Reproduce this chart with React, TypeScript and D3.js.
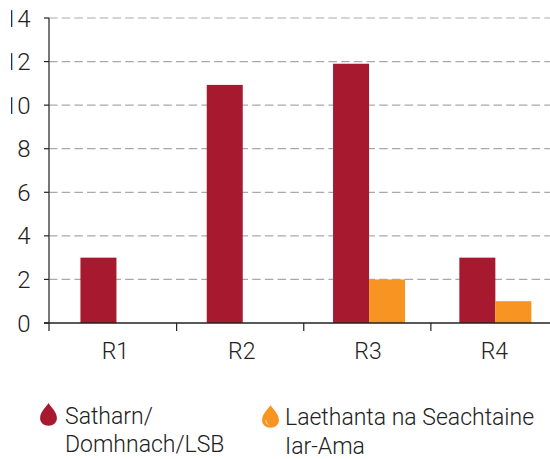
import React from "react";
import * as d3 from "d3";

const categories = ["R1", "R2", "R3", "R4"];
const seriesNames = ["Satharn/ Domhnach/LSB", "Laethanta na Seachtaine Iar-Ama"];
const weekend = [3, 10.93, 11.9, 3];
const weekdays = [0, 0, 2, 1];
const yTicks = [0, 2, 4, 6, 8, 10, 12, 14];

const RED = "#a6192e";
const ORANGE = "#f79422";
const FONT = "Roboto, sans-serif";

const dropPath = "M0,-12.5 C2,-8.5 8.4,-4 8.4,2.8 C8.4,7.4 4.6,10.2 0,10.2 C-4.6,10.2 -8.4,7.4 -8.4,2.8 C-8.4,-4 -2,-8.5 0,-12.5 Z";

export default function App() {
  const y = d3.scaleLinear().domain([0, 14]).range([323, 18]);
  const xBar = d3.scaleBand<string>().domain(categories).range([53.3, 558.5]);
  const xTick = d3.scaleBand<string>().domain(categories).range([49.5, 558]);
  const barW = 36;
  const left = 49;

  return (
    <svg
      width={550}
      height={459}
      style={{ position: "absolute", left: 0, top: 0, background: "#fff" }}
      fontFamily={FONT}
    >
      <defs>
        <clipPath id="labelClip">
          <rect x={11} y={0} width={539} height={459} />
        </clipPath>
      </defs>

      {yTicks.filter((t) => t > 0).map((t) => (
        <line key={t} x1={left} x2={550} y1={y(t)} y2={y(t)} stroke="#a9a9a9" strokeWidth={1.2} strokeDasharray="8.5 4.2" />
      ))}

      {categories.map((c, i) => {
        const center = (xBar(c) as number) + xBar.bandwidth() / 2;
        return (
          <g key={c}>
            {weekend[i] > 0 && (
              <rect x={center - barW} y={y(weekend[i])} width={barW} height={y(0) - y(weekend[i])} fill={RED} />
            )}
            {weekdays[i] > 0 && (
              <rect x={center} y={y(weekdays[i])} width={barW} height={y(0) - y(weekdays[i])} fill={ORANGE} />
            )}
          </g>
        );
      })}

      <line x1={left} x2={left} y1={y(14)} y2={331} stroke="#555" strokeWidth={1.6} />
      <line x1={44} x2={550} y1={y(0)} y2={y(0)} stroke="#222" strokeWidth={1.4} />
      {yTicks.map((t) => (
        <line key={t} x1={44} x2={left} y1={y(t)} y2={y(t)} stroke="#222" strokeWidth={1.2} />
      ))}
      {categories.map((c) => {
        const edge = (xTick(c) as number) + xTick.bandwidth();
        return edge < 550 ? (
          <line key={c} x1={edge} x2={edge} y1={y(0)} y2={331} stroke="#222" strokeWidth={1.2} />
        ) : null;
      })}

      <g clipPath="url(#labelClip)">
        {yTicks.map((t) => (
          <text key={t} x={30.5} y={y(t)} dy="0.36em" textAnchor="end" fontSize={24} fontWeight={300} fill="#222">
            {t}
          </text>
        ))}
      </g>

      {categories.map((c) => (
        <text
          key={c}
          x={(xBar(c) as number) + xBar.bandwidth() / 2 - 1}
          y={359}
          textAnchor="middle"
          fontSize={23}
          fontWeight={300}
          fill="#222"
        >
          {c}
        </text>
      ))}

      <path d={dropPath} transform="translate(48.5,415.5)" fill={RED} />
      <text x={65} y={424} fontSize={23} fontWeight={300} fill="#222">Satharn/</text>
      <text x={65} y={452} fontSize={23} fontWeight={300} fill="#222">Domhnach/LSB</text>

      <path d={dropPath} transform="translate(270.5,417.5)" fill={ORANGE} />
      <path d="M-4.5,2.5 C-4.8,5 -3.5,6.5 -2,7.2" transform="translate(270.5,417.5)" fill="none" stroke="#fde3c0" strokeWidth={1} />
      <text x={285} y={425} fontSize={23} fontWeight={300} fill="#222">Laethanta na Seachtaine</text>
      <text x={285} y={454} fontSize={23} fontWeight={300} fill="#222">Iar-Ama</text>
      <title>{seriesNames.join(" / ")}</title>
    </svg>
  );
}
